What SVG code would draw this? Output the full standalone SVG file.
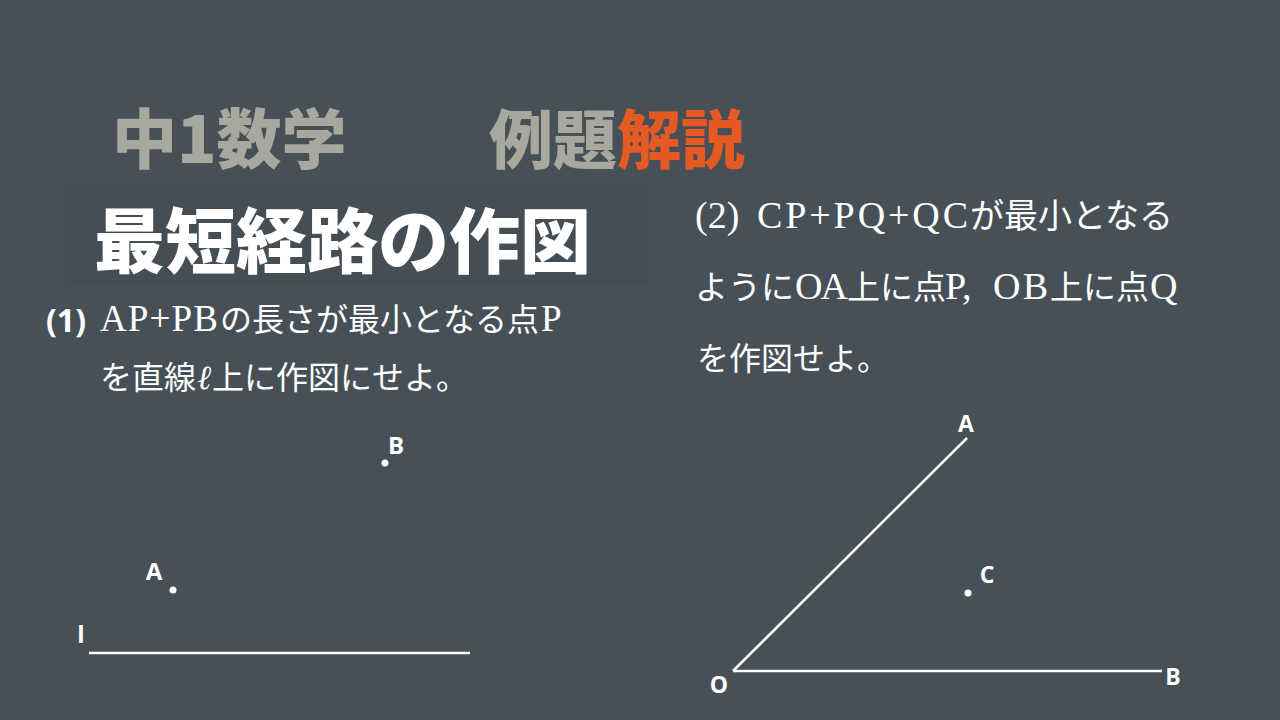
<svg xmlns="http://www.w3.org/2000/svg" width="1280" height="720" viewBox="0 0 1280 720">
<style>
.title{font-family:"Noto Sans CJK JP","Noto Sans",sans-serif;font-weight:900}
.body{font-family:"Liberation Serif","Noto Sans CJK JP",serif;fill:#ffffff}
.cjk{font-family:"Noto Sans CJK JP",sans-serif;fill:#ffffff}
.lbl{font-family:"Open Sans","Noto Sans",sans-serif;font-weight:700;fill:#ffffff;text-anchor:middle}
.ln{stroke:#ffffff;stroke-width:2.5;fill:none}
.pt{fill:#ffffff}
</style>
<rect x="0" y="0" width="1280" height="720" fill="#475057"/>
<rect x="65" y="182" width="585" height="103" fill="#454d55"/>
<g id="header">
<text class="title" x="112" y="163" font-size="65" fill="#a8a89e">中1数学</text>
<text class="title" x="489" y="163" font-size="64" fill="#a8a89e">例題<tspan fill="#e55a22">解説</tspan></text>
<text class="title" x="94" y="267" font-size="71" fill="#ffffff">最短経路の作図</text>
</g>
<g id="problem1">
<text x="46" y="332" font-family="Open Sans, Noto Sans, sans-serif" font-weight="700" font-size="32" fill="#ffffff">(1)</text>
<text class="body" x="100" y="331" font-size="37" textLength="118" lengthAdjust="spacing">AP+PB</text>
<text class="cjk" x="220" y="331" font-size="32">の長さが最小となる点</text>
<text class="body" x="541" y="331" font-size="37">P</text>
<text class="cjk" x="100" y="389" font-size="32">を直線</text>
<text class="body" x="197" y="389" font-size="34" font-style="italic">ℓ</text>
<text class="cjk" x="212" y="389" font-size="32">上に作図にせよ。</text>
</g>
<g id="problem2">
<text class="body" x="695" y="228" font-size="38">(2)</text>
<text class="body" x="757" y="228" font-size="38" textLength="211" lengthAdjust="spacing">CP+PQ+QC</text>
<text class="cjk" x="970" y="228" font-size="34">が最小となる</text>
<text class="cjk" x="695" y="299" font-size="33">ように</text>
<text class="body" x="795" y="299" font-size="38" textLength="53" lengthAdjust="spacing">OA</text>
<text class="cjk" x="847" y="299" font-size="33">上に点</text>
<text class="body" x="945" y="299" font-size="38">P,</text>
<text class="body" x="993" y="299" font-size="38" textLength="55" lengthAdjust="spacing">OB</text>
<text class="cjk" x="1050" y="299" font-size="33">上に点</text>
<text class="body" x="1150" y="299" font-size="38">Q</text>
<text class="cjk" x="697" y="370" font-size="32">を作図せよ。</text>
</g>
<g id="connectors">
<line class="ln" x1="89" y1="653" x2="470" y2="653"/>
<line class="ln" x1="967" y1="438" x2="733" y2="671"/>
<line class="ln" x1="733" y1="671" x2="1162" y2="671"/>
</g>
<g id="point-B1"><circle class="pt" cx="385" cy="463" r="3.5"/><text class="lbl" x="396" y="454" font-size="24">B</text></g>
<g id="point-A1"><circle class="pt" cx="173" cy="590" r="3.5"/><text class="lbl" x="154" y="580" font-size="24">A</text></g>
<g id="label-l"><text class="lbl" x="81" y="643" font-size="24">l</text></g>
<g id="point-A2"><text class="lbl" x="966" y="432" font-size="23">A</text></g>
<g id="point-O"><text class="lbl" x="719" y="693" font-size="23">O</text></g>
<g id="point-B2"><text class="lbl" x="1173" y="685" font-size="23">B</text></g>
<g id="point-C"><circle class="pt" cx="968" cy="593" r="3.5"/><text class="lbl" x="987" y="583" font-size="23">C</text></g>
</svg>
